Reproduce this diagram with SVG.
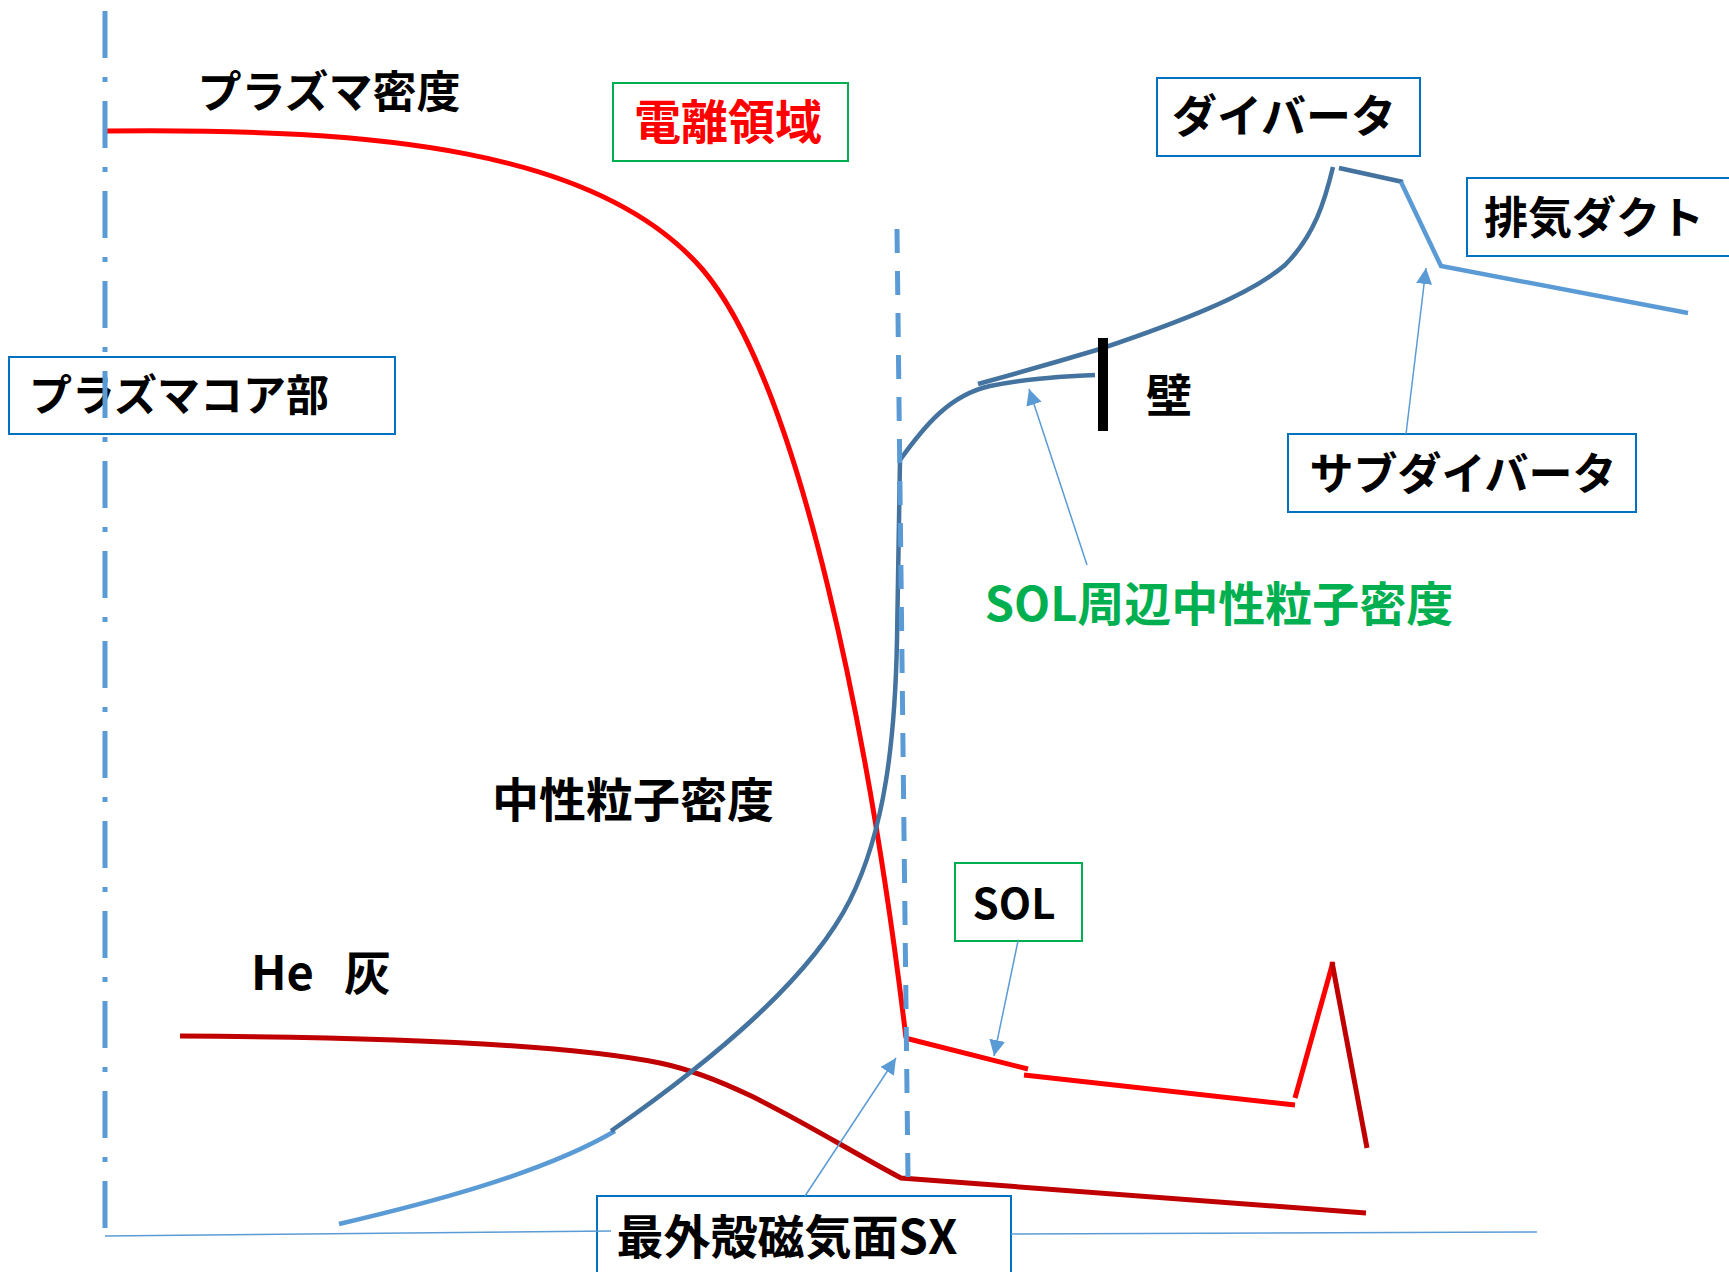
<svg xmlns="http://www.w3.org/2000/svg" width="1729" height="1272" viewBox="0 0 1729 1272">
<defs>
<style>
.lbl{font-family:'Noto Sans CJK JP','Noto Sans',sans-serif;font-weight:700;text-anchor:middle;fill:#000}
.bb{fill:none;stroke:#0070C0;stroke-width:2}
.gb{fill:none;stroke:#00B050;stroke-width:2}
.red{fill:none;stroke:#FF0000;stroke-width:5}
.dred{fill:none;stroke:#C00000;stroke-width:5}
.nb{fill:none;stroke:#44739F;stroke-width:4.5}
.lb{fill:none;stroke:#5B9BD5;stroke-width:4.5}
.conn{fill:none;stroke:#5B9BD5;stroke-width:1.5}
.axis{fill:none;stroke:#5B9BD5;stroke-width:5}
</style>
<marker id="ah" markerUnits="userSpaceOnUse" markerWidth="16" markerHeight="16" refX="16" refY="8" orient="auto"><path d="M0,0 L16,8 L0,16 z" fill="#5B9BD5"/></marker>
</defs>
<rect width="1729" height="1272" fill="#fff"/>

<g id="curves">
  <path id="plasma-density" class="red" d="M107,131 C380,128 600,150 703,270 C800,385 870,738 906,1038"/>
  <path class="red" d="M905,1038 L1028,1069 M1024,1075 L1295,1105"/>
  <path class="red" d="M1295,1098 L1333,962"/>
  <path class="dred" d="M1332,962 L1367,1148"/>
  <path id="he-ash" class="dred" d="M180,1036 C380,1037 560,1043 660,1063 C740,1080 820,1135 901,1178 L1366,1213"/>
  <path class="lb" d="M339,1224 C420,1205 540,1175 615,1131"/>
  <path id="neutral-density" class="nb" d="M611,1131 C720,1055 812,976 850,900 C885,830 895,740 897,640 L900,460 C925,425 950,395 990,386 C1030,378 1060,377 1095,375"/>
  <path class="nb" d="M978,384 Q1040,367 1100,349 C1180,322 1250,295 1285,265 C1315,235 1325,200 1333,167"/>
  <path class="nb" d="M1339,168 L1403,182"/>
  <path class="lb" d="M1401,182 L1441,266 L1688,313"/>
  <path id="wall" d="M1103,338 L1103,431" stroke="#000" stroke-width="10" fill="none"/>
</g>

<g id="node-plasma-core">
  <rect class="bb" x="9" y="357" width="386" height="77"/>
  <text class="lbl" x="179" y="411" font-size="43">プラズマコア部</text>
</g>
<g id="node-ionization">
  <rect class="gb" x="613" y="83" width="235" height="78"/>
  <text class="lbl" x="728" y="139" font-size="47" style="fill:#FF0000">電離領域</text>
</g>
<g id="node-divertor">
  <rect class="bb" x="1157" y="78" width="263" height="78"/>
  <text class="lbl" x="1284" y="133" font-size="45">ダイバータ</text>
</g>
<g id="node-exhaust">
  <rect class="bb" x="1467" y="178" width="280" height="78"/>
  <text class="lbl" x="1594" y="234" font-size="44">排気ダクト</text>
</g>
<g id="node-subdivertor">
  <rect class="bb" x="1288" y="434" width="348" height="78"/>
  <text class="lbl" x="1463" y="490" font-size="44">サブダイバータ</text>
</g>
<g id="node-sol">
  <rect class="gb" x="955" y="863" width="127" height="78"/>
  <text class="lbl" x="1014" y="919" font-size="42">SOL</text>
</g>
<g id="node-sx">
  <rect class="bb" x="597" y="1196" width="414" height="100"/>
  <text class="lbl" x="787" y="1254" font-size="47">最外殻磁気面SX</text>
</g>
<g id="label-plasma-density">
  <text class="lbl" x="329" y="108" font-size="44">プラズマ密度</text>
</g>
<g id="label-neutral">
  <text class="lbl" x="633" y="817" font-size="47">中性粒子密度</text>
</g>
<g id="label-sol-neutral">
  <text class="lbl" x="1219" y="621" font-size="47" style="fill:#00B050">SOL周辺中性粒子密度</text>
</g>
<g id="label-wall">
  <text class="lbl" x="1169" y="412" font-size="46">壁</text>
</g>
<g id="label-he">
  <text class="lbl" x="251" y="990" font-size="47" style="text-anchor:start">He <tspan x="344">灰</tspan></text>
</g>

<g id="axes">
  <path class="axis" d="M105,11 L105,1228" stroke-dasharray="47 19 5 19"/>
  <path class="axis" d="M897,229 L908,1178" stroke-dasharray="24 18"/>
</g>

<g id="connectors">
  <path class="conn" d="M105,1236 L611,1231"/>
  <path class="conn" d="M1011,1234 L1537,1232"/>
  <path class="conn" d="M805,1196 L896,1058" marker-end="url(#ah)"/>
  <path class="conn" d="M1018,941 L994,1056" marker-end="url(#ah)"/>
  <path class="conn" d="M1087,565 L1029,389" marker-end="url(#ah)"/>
  <path class="conn" d="M1406,434 L1426,268" marker-end="url(#ah)"/>
</g>
</svg>
